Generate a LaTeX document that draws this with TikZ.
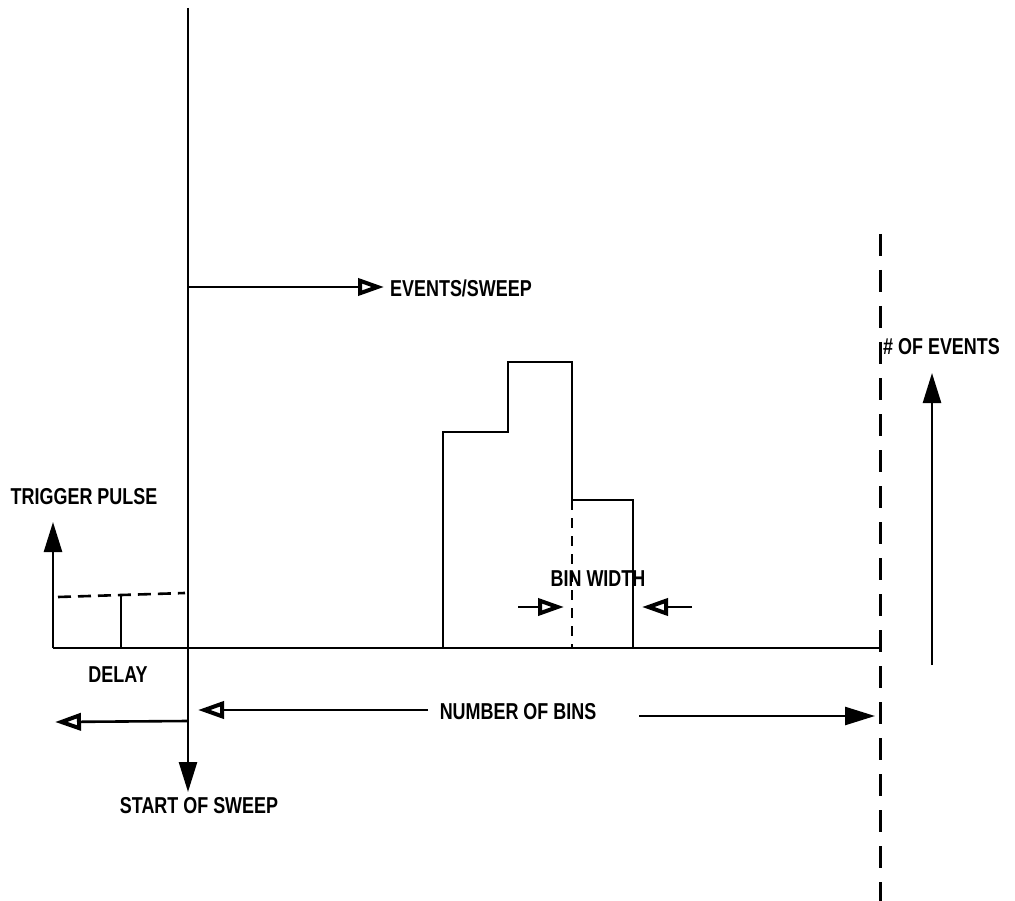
\documentclass[tikz,border=0pt]{standalone}
\usepackage{fontspec}
\newfontfamily\labfont{Liberation Sans}[FakeStretch=0.78]
\usetikzlibrary{arrows.meta}
\tikzset{
  lbl/.style={font=\labfont\bfseries\fontsize{23}{23}\selectfont, inner sep=0pt},
  ln/.style={line width=2.6pt},
  fa/.style={-{Triangle[length=30pt,width=18pt]}},
  oa/.style={-{Triangle[open,length=26pt,width=17pt,line width=4pt]}},
  dsh/.style={line width=2.6pt, dash pattern=on 13pt off 7pt},
}
\begin{document}
\begin{tikzpicture}[x=1pt,y=-1pt]
\useasboundingbox (0,0) rectangle (1015,901);
% main axes
\coordinate (top) at (188,8);
\coordinate (bot) at (188,792);
\coordinate (bl) at (53,648);
\coordinate (br) at (880,648);
\draw[ln,fa] (top) -- (bot);
\draw[ln] (bl) -- (br);
% trigger pulse
\coordinate (tp) at (53,522);
\draw[ln,fa] (bl) -- (tp);
\node[lbl] (trig) at (84,497) {TRIGGER PULSE};
\coordinate (d1) at (58,597);
\coordinate (d2) at (185,593);
\draw[dsh] (d1) -- (d2);
\coordinate (p1) at (121,648);
\coordinate (p2) at (121,595);
\draw[ln] (p1) -- (p2);
\node[lbl] (delay) at (118,675) {DELAY};
\coordinate (dl0) at (188,721);
\coordinate (dl1) at (55,722);
\draw[ln,oa] (dl0) -- (dl1);
% start of sweep
\node[lbl] (sos) at (199,806) {START OF SWEEP};
% events/sweep
\coordinate (es0) at (188,287);
\coordinate (es1) at (384,287);
\node[lbl,anchor=west] (es) at (390,288) {EVENTS/SWEEP};
\draw[ln,oa] (es0) -- (es1);
% number of bins
\node[lbl] (nb) at (518,712) {NUMBER OF BINS};
\coordinate (nbl) at (198,710);
\coordinate (nbr) at (875,716);
\coordinate (nbl0) at (428,710);
\coordinate (nbr0) at (639,716);
\draw[ln,oa] (nbl0) -- (nbl);
\draw[ln,fa] (nbr0) -- (nbr);
% histogram
\draw[ln] (443,648) -- (443,432) -- (508,432) -- (508,362) -- (572,362) -- (572,500) -- (633,500) -- (633,648);
\coordinate (bw0) at (572,500);
\coordinate (bw1) at (572,648);
\draw[line width=2.6pt, dash pattern=on 10pt off 8pt] (bw0) -- (bw1);
\node[lbl] (bw) at (598,579) {BIN WIDTH};
\coordinate (a1) at (518,607);
\coordinate (a2) at (564,607);
\coordinate (a3) at (692,607);
\coordinate (a4) at (642,607);
\draw[ln,oa] (a1) -- (a2);
\draw[ln,oa] (a3) -- (a4);
% right dashed line
\coordinate (rd0) at (880,234);
\coordinate (rd1) at (880,901);
\draw[line width=3pt, dash pattern=on 22pt off 14pt] (rd0) -- (rd1);
\node[lbl,anchor=west] (ne) at (883,347) {\# OF EVENTS};
\coordinate (ne0) at (932,665);
\coordinate (ne1) at (932,373);
\draw[ln,fa] (ne0) -- (ne1);
\end{tikzpicture}
\end{document}
